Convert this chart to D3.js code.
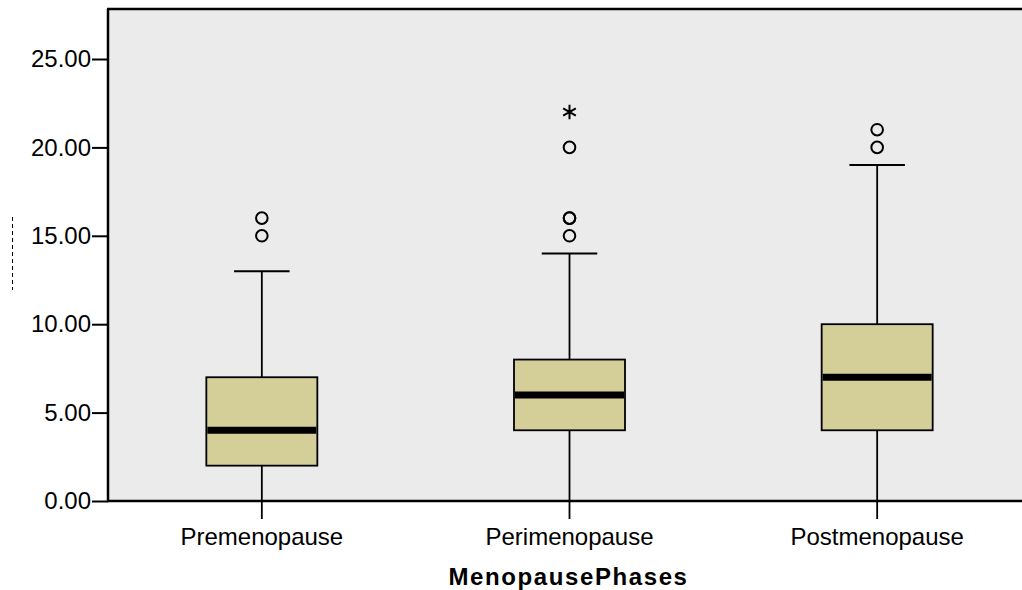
<!DOCTYPE html>
<html>
<head>
<meta charset="utf-8">
<script src="https://cdn.jsdelivr.net/npm/d3@7"></script>
<style>
  body { margin: 0; background: #fff; }
  svg { display: block; font-family: "Liberation Sans", Arial, sans-serif; }
</style>
</head>
<body>
<div id="chart"></div>
<script>
// data
var phases = ["Premenopause", "Perimenopause", "Postmenopause"];
var whiskerLow = [0, 0, 0];
var q1 = [2, 4, 4];
var medians = [4, 6, 7];
var q3 = [7, 8, 10];
var whiskerHigh = [13, 14, 19];
var outliers = [[15, 16], [15, 16, 16, 20], [20, 21]];
var extremes = [[], [22], []];
var yTicks = [0, 5, 10, 15, 20, 25];

var width = 1022, height = 590;
var margin = {top: 9, right: -9, bottom: 89, left: 108};

var svg = d3.select("#chart").append("svg")
  .attr("width", width)
  .attr("height", height);

var x = d3.scaleBand()
  .domain(phases)
  .range([margin.left, width - margin.right]);

var y = d3.scaleLinear()
  .domain([0, 25])
  .range([height - margin.bottom, 59]);

// plot background
svg.append("rect")
  .attr("x", margin.left)
  .attr("y", margin.top)
  .attr("width", width - margin.left)
  .attr("height", y(0) - margin.top)
  .attr("fill", "#ebebeb");

var boxW = 111;

var g = svg.append("g");
phases.forEach(function(p, i) {
  var cx = x(p) + x.bandwidth() / 2;
  // whiskers
  g.append("line")
    .attr("x1", cx).attr("x2", cx)
    .attr("y1", y(whiskerLow[i])).attr("y2", y(q1[i]))
    .attr("stroke", "#000").attr("stroke-width", 1.8);
  g.append("line")
    .attr("x1", cx).attr("x2", cx)
    .attr("y1", y(q3[i])).attr("y2", y(whiskerHigh[i]))
    .attr("stroke", "#000").attr("stroke-width", 1.8);
  g.append("line")
    .attr("x1", cx - boxW / 4).attr("x2", cx + boxW / 4)
    .attr("y1", y(whiskerHigh[i])).attr("y2", y(whiskerHigh[i]))
    .attr("stroke", "#000").attr("stroke-width", 2);
  // box
  g.append("rect")
    .attr("x", cx - boxW / 2)
    .attr("y", y(q3[i]))
    .attr("width", boxW)
    .attr("height", y(q1[i]) - y(q3[i]))
    .attr("fill", "#d4cf99")
    .attr("stroke", "#000")
    .attr("stroke-width", 1.8);
  // median
  g.append("line")
    .attr("x1", cx - boxW / 2 + 1).attr("x2", cx + boxW / 2 - 1)
    .attr("y1", y(medians[i])).attr("y2", y(medians[i]))
    .attr("stroke", "#000").attr("stroke-width", 7);
  // outliers
  g.selectAll(null).data(outliers[i]).enter().append("circle")
    .attr("cx", cx)
    .attr("cy", function(d) { return y(d); })
    .attr("r", 5.8)
    .attr("fill", "none")
    .attr("stroke", "#000")
    .attr("stroke-width", 2);
  // extreme values
  g.selectAll(null).data(extremes[i]).enter().append("path")
    .attr("d", d3.symbol().type(d3.symbolAsterisk).size(150))
    .attr("transform", function(d) { return "translate(" + cx + "," + y(d) + ")"; })
    .attr("fill", "none")
    .attr("stroke", "#000")
    .attr("stroke-width", 2);
});

// y axis
var yAxis = svg.append("g")
  .attr("transform", "translate(" + margin.left + ",0)")
  .call(d3.axisLeft(y).tickValues(yTicks).tickFormat(d3.format(".2f")).tickSize(16).tickPadding(1));
yAxis.select(".domain").remove();
yAxis.append("line")
  .attr("x1", 0).attr("x2", 0)
  .attr("y1", margin.top).attr("y2", y(0) + 1)
  .attr("stroke", "#000").attr("stroke-width", 2.5);
yAxis.selectAll(".tick line").attr("stroke", "#000").attr("stroke-width", 2);
yAxis.selectAll(".tick text")
  .attr("fill", "#000")
  .attr("font-size", 24)
  .attr("font-family", "Liberation Sans, Arial, sans-serif");

// x axis
var xAxis = svg.append("g")
  .attr("transform", "translate(0," + y(0) + ")")
  .call(d3.axisBottom(x).tickSize(18).tickPadding(9));
xAxis.select(".domain").remove();
xAxis.append("line")
  .attr("x1", margin.left - 1).attr("x2", width)
  .attr("y1", 0).attr("y2", 0)
  .attr("stroke", "#000").attr("stroke-width", 2.5);
xAxis.selectAll(".tick line").attr("stroke", "#000").attr("stroke-width", 1.8);
xAxis.selectAll(".tick text")
  .attr("fill", "#000")
  .attr("font-size", 24)
  .attr("font-family", "Liberation Sans, Arial, sans-serif");

// top border
svg.append("line")
  .attr("x1", margin.left - 1).attr("x2", width)
  .attr("y1", margin.top).attr("y2", margin.top)
  .attr("stroke", "#000").attr("stroke-width", 2.5);

// x axis title
svg.append("text")
  .attr("x", (x(phases[1]) + x.bandwidth() / 2) - 1)
  .attr("y", 585)
  .attr("text-anchor", "middle")
  .attr("font-size", 24)
  .attr("font-weight", "bold")
  .attr("letter-spacing", 1.6)
  .text("MenopausePhases");

// clipped y axis title remnant
svg.append("line")
  .attr("x1", 12.5).attr("x2", 12.5)
  .attr("y1", 217).attr("y2", 290)
  .attr("stroke", "#000")
  .attr("stroke-width", 1)
  .attr("stroke-dasharray", "4,3");
</script>
</body>
</html>
